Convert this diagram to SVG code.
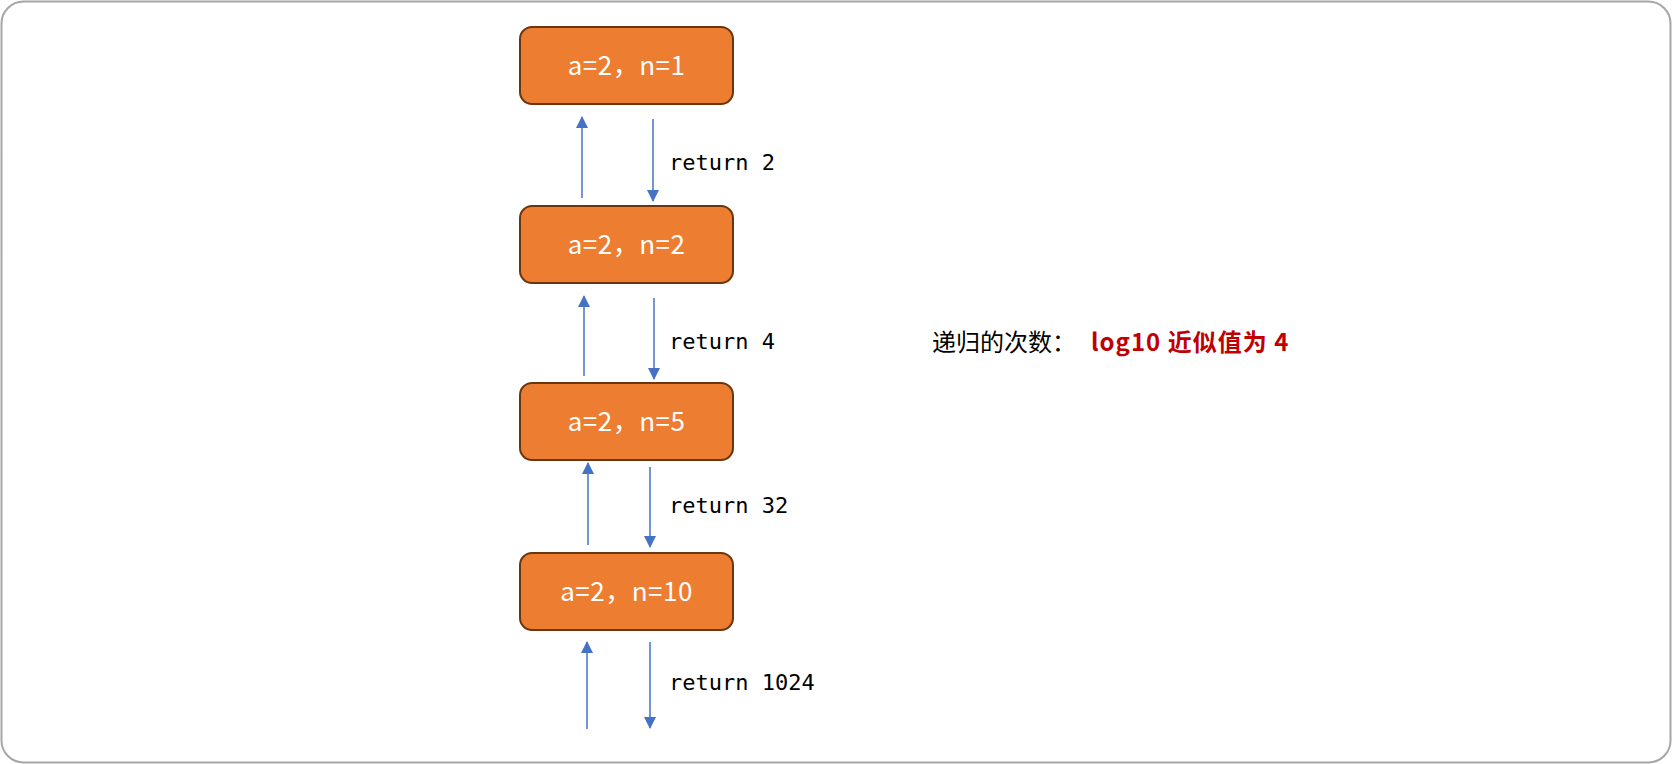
<svg xmlns="http://www.w3.org/2000/svg" width="1672" height="764" viewBox="0 0 1672 764">
<defs>
<marker id="ah" viewBox="0 0 12 12" refX="11" refY="6" markerWidth="12" markerHeight="12" markerUnits="userSpaceOnUse" orient="auto">
<path d="M0,0 L12,6 L0,12 z" fill="#4472C4"/>
</marker>
<style>
.node rect{fill:#ED7D31;stroke:#6B360E;stroke-width:2}
.node text{fill:#ffffff;font-family:"Noto Sans CJK SC","Noto Sans",sans-serif;font-size:26px;letter-spacing:0.5px;text-anchor:middle}
.conn line{stroke:#4472C4;stroke-width:1.5;marker-end:url(#ah)}
.lbl{font-family:"DejaVu Sans Mono","Liberation Mono",monospace;font-size:22px;fill:#000}
</style>
</defs>
<rect x="1.5" y="1.5" width="1669" height="761" rx="22" fill="#ffffff" stroke="#A6A6A6" stroke-width="2"/>
<g id="n1" class="node"><rect x="520" y="27" width="213" height="77" rx="12"/><text x="626.5" y="75">a=2，n=1</text></g>
<g id="n2" class="node"><rect x="520" y="206" width="213" height="77" rx="12"/><text x="626.5" y="254">a=2，n=2</text></g>
<g id="n3" class="node"><rect x="520" y="383" width="213" height="77" rx="12"/><text x="626.5" y="431">a=2，n=5</text></g>
<g id="n4" class="node"><rect x="520" y="553" width="213" height="77" rx="12"/><text x="626.5" y="601">a=2，n=10</text></g>
<g id="connectors" class="conn">
<line x1="582" y1="198" x2="582" y2="117"/>
<line x1="653" y1="119" x2="653" y2="201"/>
<line x1="584" y1="376" x2="584" y2="296"/>
<line x1="654" y1="298" x2="654" y2="379"/>
<line x1="588" y1="545" x2="588" y2="463"/>
<line x1="650" y1="467" x2="650" y2="547"/>
<line x1="587" y1="729" x2="587" y2="642"/>
<line x1="650" y1="642" x2="650" y2="728"/>
</g>
<g id="labels">
<text class="lbl" x="669" y="170">return 2</text>
<text class="lbl" x="669" y="349">return 4</text>
<text class="lbl" x="669" y="513">return 32</text>
<text class="lbl" x="669" y="690">return 1024</text>
</g>
<g id="note">
<text x="932" y="351" font-family="Noto Sans CJK SC,sans-serif" font-size="24" fill="#000">递归的次数：</text>
<text x="1091" y="351" font-family="Noto Sans CJK SC,sans-serif" font-size="24" font-weight="bold" letter-spacing="1" fill="#C00000">log10 近似值为 4</text>
</g>
</svg>
